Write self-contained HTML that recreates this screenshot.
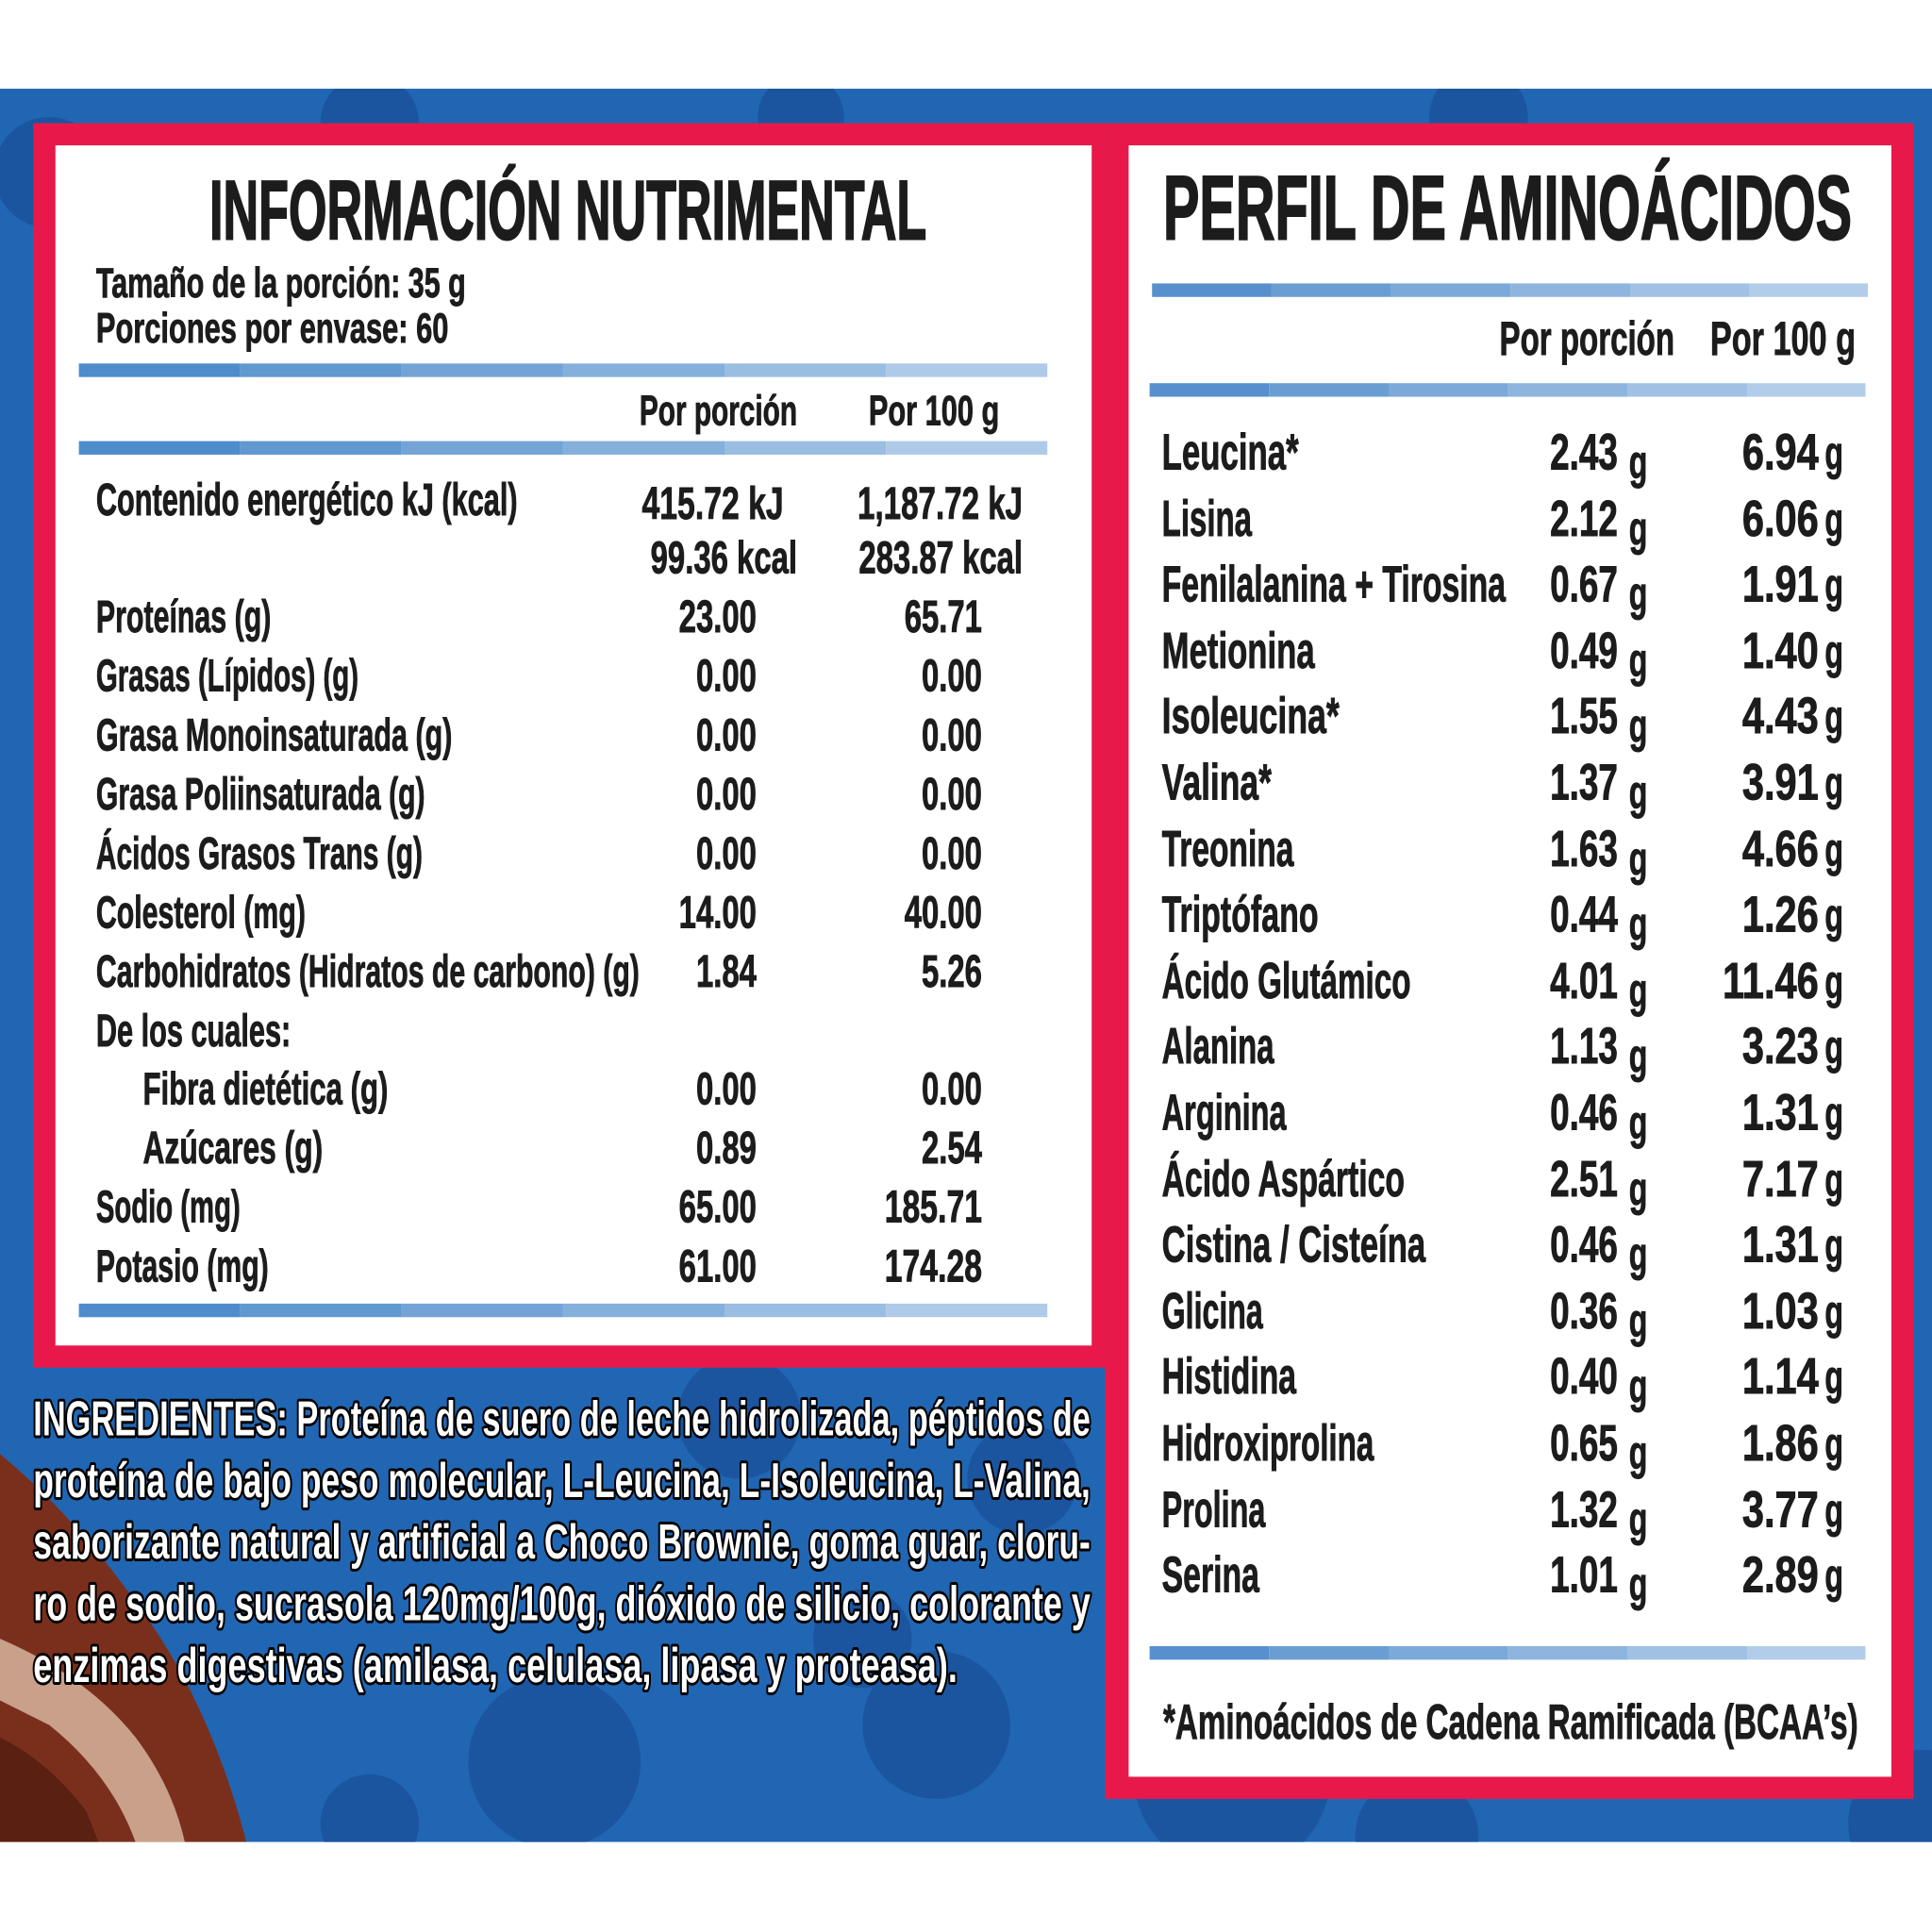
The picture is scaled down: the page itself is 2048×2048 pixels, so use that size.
<!DOCTYPE html>
<html><head><meta charset="utf-8">
<style>
html,body{margin:0;padding:0;background:#fff;}
svg{display:block;}
text{font-family:"Liberation Sans Narrow","Liberation Sans",sans-serif;font-weight:bold;fill:#1c1c1c;stroke:#1c1c1c;stroke-width:0.7;}
text.w{fill:#fff;stroke:#000;stroke-width:4.5;paint-order:stroke;stroke-linejoin:round;}
</style></head>
<body>
<svg width="2048" height="2048" viewBox="0 0 1568 1568" xmlns="http://www.w3.org/2000/svg">
<defs>
<clipPath id="bg"><rect x="0" y="72" width="1568" height="1423"/></clipPath>
<g id="bar">
<rect x="0" y="0" width="131" height="11" fill="#4f8ccb"/>
<rect x="131" y="0" width="131" height="11" fill="#6098d0"/>
<rect x="262" y="0" width="131" height="11" fill="#73a4d5"/>
<rect x="393" y="0" width="131" height="11" fill="#86b0dc"/>
<rect x="524" y="0" width="131" height="11" fill="#9abde2"/>
<rect x="655" y="0" width="131" height="11" fill="#aecae8"/>
</g>
<g id="bar2">
<rect x="0" y="0" width="97" height="11" fill="#5790cd"/>
<rect x="97" y="0" width="97" height="11" fill="#6a9ed3"/>
<rect x="194" y="0" width="97" height="11" fill="#7ba9d8"/>
<rect x="291" y="0" width="97" height="11" fill="#8db5de"/>
<rect x="388" y="0" width="97" height="11" fill="#a0c1e4"/>
<rect x="485" y="0" width="96" height="11" fill="#b2cde9"/>
</g>
</defs>
<rect width="1568" height="1568" fill="#fff"/>
<g clip-path="url(#bg)">
<rect x="0" y="72" width="1568" height="1423" fill="#2166b3"/>
<g fill="#1b55a0">
<circle cx="40" cy="140" r="45"/><circle cx="300" cy="100" r="40"/><circle cx="650" cy="95" r="35"/><circle cx="1200" cy="95" r="40"/>
<circle cx="450" cy="1430" r="70"/><circle cx="760" cy="1400" r="60"/><circle cx="1000" cy="1440" r="80"/><circle cx="600" cy="1150" r="50"/>
<circle cx="830" cy="1200" r="45"/><circle cx="300" cy="1480" r="40"/><circle cx="1150" cy="1490" r="50"/><circle cx="1560" cy="1480" r="60"/><circle cx="700" cy="1330" r="40"/>
</g>
<path d="M0 1180 Q60 1230 110 1300 Q170 1380 200 1495 L0 1495 Z" fill="#7a2f1c"/>
<path d="M0 1330 Q70 1360 110 1410 Q140 1450 150 1495 L110 1495 Q90 1440 40 1400 L0 1380Z" fill="#c9a08a"/>
<path d="M0 1410 Q40 1430 70 1470 L80 1495 L0 1495Z" fill="#5a2012"/>
</g>
<!-- red frames -->
<rect x="27" y="100" width="870" height="1010" fill="#e8194a"/>
<rect x="897" y="100" width="656" height="1360" fill="#e8194a"/>
<rect x="45" y="118" width="841" height="974" fill="#fff"/>
<rect x="916" y="118" width="619" height="1324" fill="#fff"/>

<!-- left panel -->
<text x="461" y="194" font-size="68" text-anchor="middle" textLength="582" lengthAdjust="spacingAndGlyphs" style="stroke-width:1.5">INFORMACIÓN NUTRIMENTAL</text>
<text x="78" y="241" font-size="34" textLength="300" lengthAdjust="spacingAndGlyphs">Tamaño de la porción: 35 g</text>
<text x="78" y="278" font-size="34" textLength="286" lengthAdjust="spacingAndGlyphs">Porciones por envase: 60</text>
<use href="#bar" x="64" y="295"/>
<text x="519" y="345" font-size="34" textLength="128" lengthAdjust="spacingAndGlyphs">Por porción</text>
<text x="705" y="345" font-size="34" textLength="106" lengthAdjust="spacingAndGlyphs">Por 100 g</text>
<use href="#bar" x="64" y="358"/>
<g font-size="37">
<text x="78" y="418" textLength="342" lengthAdjust="spacingAndGlyphs">Contenido energético kJ (kcal)</text>
<text x="636" y="421" text-anchor="end" textLength="115" lengthAdjust="spacingAndGlyphs">415.72 kJ</text>
<text x="647" y="465" text-anchor="end" textLength="119" lengthAdjust="spacingAndGlyphs">99.36 kcal</text>
<text x="830" y="421" text-anchor="end" textLength="134" lengthAdjust="spacingAndGlyphs">1,187.72 kJ</text>
<text x="830" y="465" text-anchor="end" textLength="133" lengthAdjust="spacingAndGlyphs">283.87 kcal</text>
<text x="78" y="513" textLength="142" lengthAdjust="spacingAndGlyphs">Proteínas (g)</text>
<text x="614" y="513" text-anchor="end" textLength="63" lengthAdjust="spacingAndGlyphs">23.00</text>
<text x="797" y="513" text-anchor="end" textLength="63" lengthAdjust="spacingAndGlyphs">65.71</text>
<text x="78" y="561" textLength="213" lengthAdjust="spacingAndGlyphs">Grasas (Lípidos) (g)</text>
<text x="614" y="561" text-anchor="end" textLength="49" lengthAdjust="spacingAndGlyphs">0.00</text>
<text x="797" y="561" text-anchor="end" textLength="49" lengthAdjust="spacingAndGlyphs">0.00</text>
<text x="78" y="609" textLength="289" lengthAdjust="spacingAndGlyphs">Grasa Monoinsaturada (g)</text>
<text x="614" y="609" text-anchor="end" textLength="49" lengthAdjust="spacingAndGlyphs">0.00</text>
<text x="797" y="609" text-anchor="end" textLength="49" lengthAdjust="spacingAndGlyphs">0.00</text>
<text x="78" y="657" textLength="267" lengthAdjust="spacingAndGlyphs">Grasa Poliinsaturada (g)</text>
<text x="614" y="657" text-anchor="end" textLength="49" lengthAdjust="spacingAndGlyphs">0.00</text>
<text x="797" y="657" text-anchor="end" textLength="49" lengthAdjust="spacingAndGlyphs">0.00</text>
<text x="78" y="705" textLength="265" lengthAdjust="spacingAndGlyphs">Ácidos Grasos Trans (g)</text>
<text x="614" y="705" text-anchor="end" textLength="49" lengthAdjust="spacingAndGlyphs">0.00</text>
<text x="797" y="705" text-anchor="end" textLength="49" lengthAdjust="spacingAndGlyphs">0.00</text>
<text x="78" y="753" textLength="170" lengthAdjust="spacingAndGlyphs">Colesterol (mg)</text>
<text x="614" y="753" text-anchor="end" textLength="63" lengthAdjust="spacingAndGlyphs">14.00</text>
<text x="797" y="753" text-anchor="end" textLength="63" lengthAdjust="spacingAndGlyphs">40.00</text>
<text x="78" y="801" textLength="441" lengthAdjust="spacingAndGlyphs">Carbohidratos (Hidratos de carbono) (g)</text>
<text x="614" y="801" text-anchor="end" textLength="49" lengthAdjust="spacingAndGlyphs">1.84</text>
<text x="797" y="801" text-anchor="end" textLength="49" lengthAdjust="spacingAndGlyphs">5.26</text>
<text x="78" y="849" textLength="158" lengthAdjust="spacingAndGlyphs">De los cuales:</text>
<text x="116" y="896" textLength="199" lengthAdjust="spacingAndGlyphs">Fibra dietética (g)</text>
<text x="614" y="896" text-anchor="end" textLength="49" lengthAdjust="spacingAndGlyphs">0.00</text>
<text x="797" y="896" text-anchor="end" textLength="49" lengthAdjust="spacingAndGlyphs">0.00</text>
<text x="116" y="944" textLength="146" lengthAdjust="spacingAndGlyphs">Azúcares  (g)</text>
<text x="614" y="944" text-anchor="end" textLength="49" lengthAdjust="spacingAndGlyphs">0.89</text>
<text x="797" y="944" text-anchor="end" textLength="49" lengthAdjust="spacingAndGlyphs">2.54</text>
<text x="78" y="992" textLength="117" lengthAdjust="spacingAndGlyphs">Sodio (mg)</text>
<text x="614" y="992" text-anchor="end" textLength="63" lengthAdjust="spacingAndGlyphs">65.00</text>
<text x="797" y="992" text-anchor="end" textLength="79" lengthAdjust="spacingAndGlyphs">185.71</text>
<text x="78" y="1040" textLength="140" lengthAdjust="spacingAndGlyphs">Potasio (mg)</text>
<text x="614" y="1040" text-anchor="end" textLength="63" lengthAdjust="spacingAndGlyphs">61.00</text>
<text x="797" y="1040" text-anchor="end" textLength="79" lengthAdjust="spacingAndGlyphs">174.28</text>
</g>
<use href="#bar" x="64" y="1058"/>

<!-- ingredients -->
<g font-size="40">
<text class="w" x="27" y="1165" textLength="858" lengthAdjust="spacingAndGlyphs">INGREDIENTES: Proteína de suero de leche hidrolizada, péptidos de</text>
<text class="w" x="27" y="1215" textLength="858" lengthAdjust="spacingAndGlyphs">proteína de bajo peso molecular, L-Leucina, L-Isoleucina, L-Valina,</text>
<text class="w" x="27" y="1265" textLength="858" lengthAdjust="spacingAndGlyphs">saborizante natural y artificial a Choco Brownie, goma guar, cloru-</text>
<text class="w" x="27" y="1315" textLength="858" lengthAdjust="spacingAndGlyphs">ro de sodio, sucrasola 120mg/100g, dióxido de silicio, colorante y</text>
<text class="w" x="27" y="1365" textLength="750" lengthAdjust="spacingAndGlyphs">enzimas digestivas (amilasa, celulasa, lipasa y proteasa).</text>
</g>

<!-- right panel -->
<text x="944" y="194" font-size="74" textLength="559" lengthAdjust="spacingAndGlyphs" style="stroke-width:1.5">PERFIL DE AMINOÁCIDOS</text>
<use href="#bar2" x="935" y="230"/>
<text x="1217" y="288" font-size="38" textLength="142" lengthAdjust="spacingAndGlyphs">Por porción</text>
<text x="1388" y="288" font-size="38" textLength="118" lengthAdjust="spacingAndGlyphs">Por 100 g</text>
<use href="#bar2" x="933" y="311"/>
<g font-size="41">
<text x="943" y="381" textLength="111" lengthAdjust="spacingAndGlyphs">Leucina*</text>
<text x="943" y="435" textLength="73" lengthAdjust="spacingAndGlyphs">Lisina</text>
<text x="943" y="488" textLength="279" lengthAdjust="spacingAndGlyphs">Fenilalanina + Tirosina</text>
<text x="943" y="542" textLength="124" lengthAdjust="spacingAndGlyphs">Metionina</text>
<text x="943" y="595" textLength="144" lengthAdjust="spacingAndGlyphs">Isoleucina*</text>
<text x="943" y="649" textLength="89" lengthAdjust="spacingAndGlyphs">Valina*</text>
<text x="943" y="703" textLength="107" lengthAdjust="spacingAndGlyphs">Treonina</text>
<text x="943" y="756" textLength="127" lengthAdjust="spacingAndGlyphs">Triptófano</text>
<text x="943" y="810" textLength="202" lengthAdjust="spacingAndGlyphs">Ácido Glutámico</text>
<text x="943" y="863" textLength="91" lengthAdjust="spacingAndGlyphs">Alanina</text>
<text x="943" y="917" textLength="101" lengthAdjust="spacingAndGlyphs">Arginina</text>
<text x="943" y="971" textLength="197" lengthAdjust="spacingAndGlyphs">Ácido Aspártico</text>
<text x="943" y="1024" textLength="214" lengthAdjust="spacingAndGlyphs">Cistina / Cisteína</text>
<text x="943" y="1078" textLength="82" lengthAdjust="spacingAndGlyphs">Glicina</text>
<text x="943" y="1131" textLength="109" lengthAdjust="spacingAndGlyphs">Histidina</text>
<text x="943" y="1185" textLength="172" lengthAdjust="spacingAndGlyphs">Hidroxiprolina</text>
<text x="943" y="1239" textLength="84" lengthAdjust="spacingAndGlyphs">Prolina</text>
<text x="943" y="1292" textLength="79" lengthAdjust="spacingAndGlyphs">Serina</text>
</g>
<g font-size="41" text-anchor="end">
<text x="1313" y="381" textLength="55" lengthAdjust="spacingAndGlyphs">2.43</text><text x="1476" y="381" textLength="62" lengthAdjust="spacingAndGlyphs">6.94</text>
<text x="1313" y="435" textLength="55" lengthAdjust="spacingAndGlyphs">2.12</text><text x="1476" y="435" textLength="62" lengthAdjust="spacingAndGlyphs">6.06</text>
<text x="1313" y="488" textLength="55" lengthAdjust="spacingAndGlyphs">0.67</text><text x="1476" y="488" textLength="62" lengthAdjust="spacingAndGlyphs">1.91</text>
<text x="1313" y="542" textLength="55" lengthAdjust="spacingAndGlyphs">0.49</text><text x="1476" y="542" textLength="62" lengthAdjust="spacingAndGlyphs">1.40</text>
<text x="1313" y="595" textLength="55" lengthAdjust="spacingAndGlyphs">1.55</text><text x="1476" y="595" textLength="62" lengthAdjust="spacingAndGlyphs">4.43</text>
<text x="1313" y="649" textLength="55" lengthAdjust="spacingAndGlyphs">1.37</text><text x="1476" y="649" textLength="62" lengthAdjust="spacingAndGlyphs">3.91</text>
<text x="1313" y="703" textLength="55" lengthAdjust="spacingAndGlyphs">1.63</text><text x="1476" y="703" textLength="62" lengthAdjust="spacingAndGlyphs">4.66</text>
<text x="1313" y="756" textLength="55" lengthAdjust="spacingAndGlyphs">0.44</text><text x="1476" y="756" textLength="62" lengthAdjust="spacingAndGlyphs">1.26</text>
<text x="1313" y="810" textLength="55" lengthAdjust="spacingAndGlyphs">4.01</text><text x="1476" y="810" textLength="78" lengthAdjust="spacingAndGlyphs">11.46</text>
<text x="1313" y="863" textLength="55" lengthAdjust="spacingAndGlyphs">1.13</text><text x="1476" y="863" textLength="62" lengthAdjust="spacingAndGlyphs">3.23</text>
<text x="1313" y="917" textLength="55" lengthAdjust="spacingAndGlyphs">0.46</text><text x="1476" y="917" textLength="62" lengthAdjust="spacingAndGlyphs">1.31</text>
<text x="1313" y="971" textLength="55" lengthAdjust="spacingAndGlyphs">2.51</text><text x="1476" y="971" textLength="62" lengthAdjust="spacingAndGlyphs">7.17</text>
<text x="1313" y="1024" textLength="55" lengthAdjust="spacingAndGlyphs">0.46</text><text x="1476" y="1024" textLength="62" lengthAdjust="spacingAndGlyphs">1.31</text>
<text x="1313" y="1078" textLength="55" lengthAdjust="spacingAndGlyphs">0.36</text><text x="1476" y="1078" textLength="62" lengthAdjust="spacingAndGlyphs">1.03</text>
<text x="1313" y="1131" textLength="55" lengthAdjust="spacingAndGlyphs">0.40</text><text x="1476" y="1131" textLength="62" lengthAdjust="spacingAndGlyphs">1.14</text>
<text x="1313" y="1185" textLength="55" lengthAdjust="spacingAndGlyphs">0.65</text><text x="1476" y="1185" textLength="62" lengthAdjust="spacingAndGlyphs">1.86</text>
<text x="1313" y="1239" textLength="55" lengthAdjust="spacingAndGlyphs">1.32</text><text x="1476" y="1239" textLength="62" lengthAdjust="spacingAndGlyphs">3.77</text>
<text x="1313" y="1292" textLength="55" lengthAdjust="spacingAndGlyphs">1.01</text><text x="1476" y="1292" textLength="62" lengthAdjust="spacingAndGlyphs">2.89</text>
</g>
<g font-size="38">
<text x="1322" y="388" textLength="15" lengthAdjust="spacingAndGlyphs">g</text><text x="1481" y="381" textLength="15" lengthAdjust="spacingAndGlyphs">g</text>
<text x="1322" y="442" textLength="15" lengthAdjust="spacingAndGlyphs">g</text><text x="1481" y="435" textLength="15" lengthAdjust="spacingAndGlyphs">g</text>
<text x="1322" y="495" textLength="15" lengthAdjust="spacingAndGlyphs">g</text><text x="1481" y="488" textLength="15" lengthAdjust="spacingAndGlyphs">g</text>
<text x="1322" y="549" textLength="15" lengthAdjust="spacingAndGlyphs">g</text><text x="1481" y="542" textLength="15" lengthAdjust="spacingAndGlyphs">g</text>
<text x="1322" y="602" textLength="15" lengthAdjust="spacingAndGlyphs">g</text><text x="1481" y="595" textLength="15" lengthAdjust="spacingAndGlyphs">g</text>
<text x="1322" y="656" textLength="15" lengthAdjust="spacingAndGlyphs">g</text><text x="1481" y="649" textLength="15" lengthAdjust="spacingAndGlyphs">g</text>
<text x="1322" y="710" textLength="15" lengthAdjust="spacingAndGlyphs">g</text><text x="1481" y="703" textLength="15" lengthAdjust="spacingAndGlyphs">g</text>
<text x="1322" y="763" textLength="15" lengthAdjust="spacingAndGlyphs">g</text><text x="1481" y="756" textLength="15" lengthAdjust="spacingAndGlyphs">g</text>
<text x="1322" y="817" textLength="15" lengthAdjust="spacingAndGlyphs">g</text><text x="1481" y="810" textLength="15" lengthAdjust="spacingAndGlyphs">g</text>
<text x="1322" y="870" textLength="15" lengthAdjust="spacingAndGlyphs">g</text><text x="1481" y="863" textLength="15" lengthAdjust="spacingAndGlyphs">g</text>
<text x="1322" y="924" textLength="15" lengthAdjust="spacingAndGlyphs">g</text><text x="1481" y="917" textLength="15" lengthAdjust="spacingAndGlyphs">g</text>
<text x="1322" y="978" textLength="15" lengthAdjust="spacingAndGlyphs">g</text><text x="1481" y="971" textLength="15" lengthAdjust="spacingAndGlyphs">g</text>
<text x="1322" y="1031" textLength="15" lengthAdjust="spacingAndGlyphs">g</text><text x="1481" y="1024" textLength="15" lengthAdjust="spacingAndGlyphs">g</text>
<text x="1322" y="1085" textLength="15" lengthAdjust="spacingAndGlyphs">g</text><text x="1481" y="1078" textLength="15" lengthAdjust="spacingAndGlyphs">g</text>
<text x="1322" y="1138" textLength="15" lengthAdjust="spacingAndGlyphs">g</text><text x="1481" y="1131" textLength="15" lengthAdjust="spacingAndGlyphs">g</text>
<text x="1322" y="1192" textLength="15" lengthAdjust="spacingAndGlyphs">g</text><text x="1481" y="1185" textLength="15" lengthAdjust="spacingAndGlyphs">g</text>
<text x="1322" y="1246" textLength="15" lengthAdjust="spacingAndGlyphs">g</text><text x="1481" y="1239" textLength="15" lengthAdjust="spacingAndGlyphs">g</text>
<text x="1322" y="1299" textLength="15" lengthAdjust="spacingAndGlyphs">g</text><text x="1481" y="1292" textLength="15" lengthAdjust="spacingAndGlyphs">g</text>
</g>
<use href="#bar2" x="933" y="1336"/>
<text x="944" y="1411" font-size="40" textLength="564" lengthAdjust="spacingAndGlyphs">*Aminoácidos de Cadena Ramificada (BCAA’s)</text>
</svg>
</body></html>
